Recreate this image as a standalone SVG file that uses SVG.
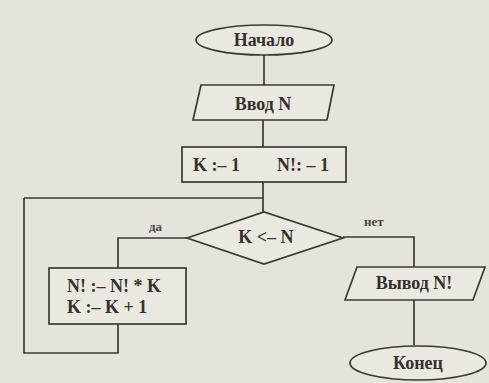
<svg xmlns="http://www.w3.org/2000/svg" width="489" height="383" viewBox="0 0 489 383">
<style>
.s{fill:none;stroke:#3b3936;stroke-width:1.7}
.b{fill:#ebe8e1;stroke:#3b3936;stroke-width:1.7}
.t{font-family:"Liberation Serif",serif;font-size:18px;font-weight:bold;fill:#34312d}
.m{text-anchor:middle}
.l{font-family:"Liberation Serif",serif;font-size:13px;font-weight:bold;fill:#4a4742}
</style>
<rect width="489" height="383" fill="#e6e3dc"/>
<g id="connectors">
<path class="s" d="M264 55V85M263 120V147M263 182V212"/>
<path class="s" d="M24 198H263M24 198V353H118V324"/>
<path class="s" d="M187 238H118V268"/>
<path class="s" d="M343 237H414V267M414 300V345"/>
</g>
<g id="start"><ellipse class="b" cx="264" cy="40" rx="68" ry="15"/><text class="t m" x="264" y="46">Начало</text></g>
<g id="input"><polygon class="b" points="201,85 334,85 327,120 193,120"/><text class="t m" x="263" y="110">Ввод N</text></g>
<g id="init"><rect class="b" x="182" y="147" width="164" height="35"/><text class="t" x="193" y="171">K :– 1</text><text class="t" x="277" y="171">N!: – 1</text></g>
<g id="cond"><polygon class="b" points="187,238 264,212 343,238 264,264"/><text class="t m" x="266" y="243">K &lt;– N</text></g>
<g id="body"><rect class="b" x="49" y="268" width="137" height="56"/><text class="t" x="67" y="292">N! :– N! * K</text><text class="t" x="67" y="313">K :– K + 1</text></g>
<g id="output"><polygon class="b" points="357,267 485,267 473,300 345,300"/><text class="t m" x="414" y="289">Вывод N!</text></g>
<g id="end"><ellipse class="b" cx="418" cy="363" rx="68" ry="17"/><text class="t m" x="418" y="369">Конец</text></g>
<text class="l" x="149" y="231">да</text>
<text class="l" x="364" y="226">нет</text>
</svg>
